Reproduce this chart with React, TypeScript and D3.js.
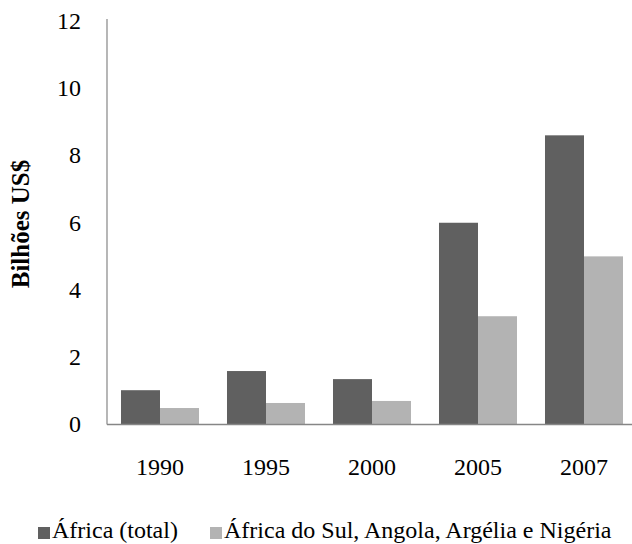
import React from "react";
import { scaleBand, scaleLinear } from "d3";

const years = ["1990", "1995", "2000", "2005", "2007"];
const africaTotal = [1.02, 1.59, 1.35, 6.0, 8.6];
const fourCountries = [0.49, 0.64, 0.7, 3.22, 5.0];
const seriesNames = ["África (total)", "África do Sul, Angola, Argélia e Nigéria"];
const seriesColors = ["#606060", "#b3b3b3"];
const yTicks = [0, 2, 4, 6, 8, 10, 12];

const width = 632;
const height = 544;
const left = 107;
const top = 21;
const bottom = 424.5;
const font = "Liberation Serif";

const App = () => {
  const x = scaleBand<string>()
    .domain(years)
    .range([left, left + 530])
    .paddingInner(0.264)
    .paddingOuter(0.132);
  const inner = scaleBand<number>().domain([0, 1]).range([0, x.bandwidth()]);
  const y = scaleLinear().domain([0, 12]).range([bottom, top]);
  const series = [africaTotal, fourCountries];

  return (
    <div style={{ position: "absolute", left: 0, top: 0 }}>
      <svg width={width} height={height} viewBox={`0 0 ${width} ${height}`} style={{ display: "block" }}>
        <rect width={width} height={height} fill="#fff" />
        {series.map((vals, s) =>
          vals.map((v, i) => (
            <rect
              key={`${s}-${i}`}
              x={(x(years[i]) as number) + (inner(s) as number)}
              y={y(v)}
              width={inner.bandwidth()}
              height={bottom - y(v)}
              fill={seriesColors[s]}
            />
          ))
        )}
        <line x1={left} x2={left} y1={19} y2={bottom} stroke="#868686" strokeWidth={1.2} />
        <line x1={left} x2={width} y1={bottom} y2={bottom} stroke="#868686" strokeWidth={1.6} />
        {yTicks.map((t) => (
          <text key={t} x={81} y={y(t)} dy="0.33em" textAnchor="end" fontFamily={font} fontSize={24} fill="#000">
            {t}
          </text>
        ))}
        {years.map((yr) => (
          <text
            key={yr}
            x={(x(yr) as number) + x.bandwidth() / 2}
            y={475}
            textAnchor="middle"
            fontFamily={font}
            fontSize={24}
            fill="#000"
          >
            {yr}
          </text>
        ))}
        <text
          transform={`translate(${29},${224}) rotate(-90)`}
          textAnchor="middle"
          fontFamily={font}
          fontSize={25}
          fontWeight="bold"
          fill="#000"
        >
          Bilhões US$
        </text>
        {seriesNames.map((name, s) => {
          const lx = s === 0 ? 38 : 210;
          return (
            <g key={name}>
              <rect x={lx} y={527} width={12} height={12} fill={seriesColors[s]} />
              <text x={lx + 14} y={538} fontFamily={font} fontSize={24} fill="#000">
                {name}
              </text>
            </g>
          );
        })}
      </svg>
    </div>
  );
};

export default App;
